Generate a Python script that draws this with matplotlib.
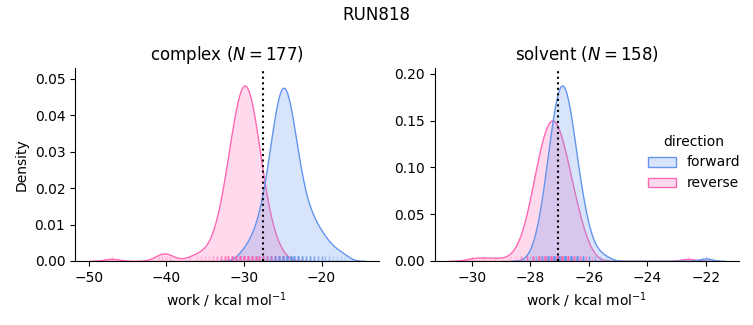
import matplotlib.pyplot as plt
import numpy as np
import pandas as pd
import seaborn as sns

# work values (kcal/mol) and how many switching runs landed on each value
complex_fwd_work = [-30.5, -30.0, -29.5, -29.0, -28.5, -28.0, -27.5, -27.0, -26.5, -26.0,
                    -25.5, -25.0, -24.5, -24.0, -23.5, -23.0, -22.5, -22.0, -21.5, -21.0,
                    -20.5, -20.0, -19.5, -19.0, -18.5, -18.0, -17.5, -17.0]
complex_fwd_count = [1, 1, 2, 2, 3, 4, 6, 8, 11, 14,
                     17, 18, 18, 15, 12, 10, 7, 5, 5, 4,
                     3, 3, 2, 2, 1, 1, 1, 1]

complex_rev_work = [-47.0, -41.0, -40.5, -40.0, -39.5, -37.0, -36.0, -35.5, -35.0, -34.5,
                    -34.0, -33.5, -33.0, -32.5, -32.0, -31.5, -31.0, -30.5, -30.0, -29.5,
                    -29.0, -28.5, -28.0, -27.5, -27.0, -26.5, -26.0, -25.5, -25.0]
complex_rev_count = [1, 1, 1, 1, 1, 1, 1, 1, 1, 1,
                     2, 3, 5, 7, 9, 13, 15, 17, 19, 18,
                     16, 14, 10, 7, 5, 3, 2, 1, 1]

solvent_fwd_work = [-28.0, -27.8, -27.6, -27.4, -27.2, -27.0, -26.8, -26.6, -26.4, -26.2,
                    -26.0, -25.8, -25.6, -25.4, -22.0]
solvent_fwd_count = [1, 3, 8, 15, 22, 28, 27, 22, 14, 9,
                     4, 2, 1, 1, 1]

solvent_rev_work = [-30.0, -29.6, -29.2, -28.7, -28.5, -28.3, -28.1, -27.9, -27.7, -27.5,
                    -27.3, -27.1, -26.9, -26.7, -26.5, -26.3, -26.1, -25.9, -22.6]
solvent_rev_count = [1, 1, 1, 1, 1, 3, 6, 11, 16, 20,
                     22, 22, 18, 14, 10, 6, 3, 1, 1]

phases = ["complex", "solvent"]
n_runs = {"complex": 177, "solvent": 158}
dg_estimate = {"complex": -27.5, "solvent": -27.05}
palette = {"forward": "cornflowerblue", "reverse": "hotpink"}


def expand(phase, direction, work, count):
    return pd.DataFrame({
        "phase": phase,
        "direction": direction,
        "work": np.repeat(work, count),
    })


df = pd.concat([
    expand("complex", "forward", complex_fwd_work, complex_fwd_count),
    expand("complex", "reverse", complex_rev_work, complex_rev_count),
    expand("solvent", "forward", solvent_fwd_work, solvent_fwd_count),
    expand("solvent", "reverse", solvent_rev_work, solvent_rev_count),
], ignore_index=True)

g = sns.displot(
    data=df, x="work", hue="direction", col="phase",
    kind="kde", fill=True, rug=True,
    col_order=phases, hue_order=["forward", "reverse"], palette=palette,
    rug_kws=dict(alpha=0.3),
    facet_kws=dict(sharex=False, sharey=False),
    height=3, aspect=1.2,
)

for phase, ax in g.axes_dict.items():
    # free energy estimate
    ax.axvline(dg_estimate[phase], color="k", ls=":")
    ax.set_title(f"{phase} ($N = {n_runs[phase]}$)", fontsize=12)

g.set_axis_labels("work / kcal mol$^{-1}$", "Density")

fig = g.figure
fig.set_size_inches(7.53, 3.25)
fig.subplots_adjust(left=0.0996, right=0.981, bottom=0.197, top=0.791, wspace=0.184)
fig.suptitle("RUN818", fontsize=12)

fig.savefig("out.png", dpi=100)
